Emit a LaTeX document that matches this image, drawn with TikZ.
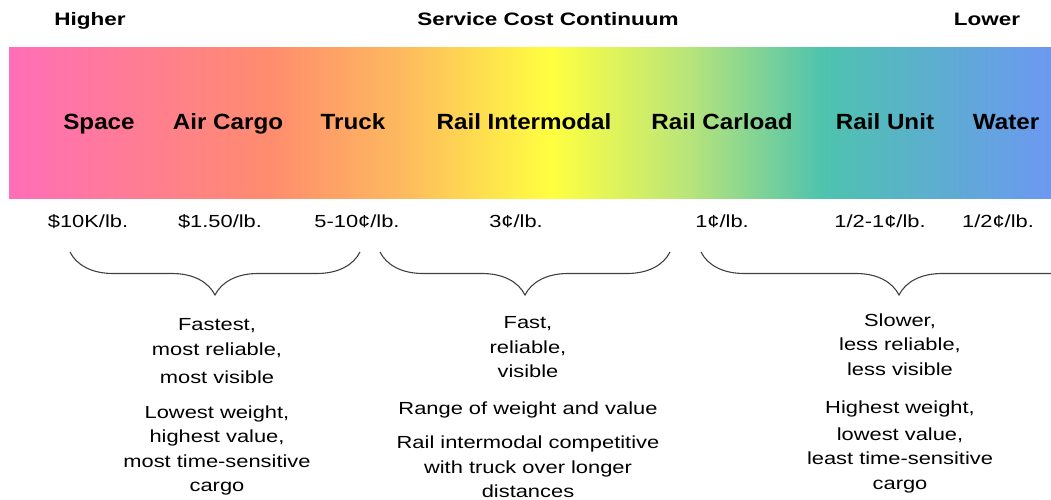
\documentclass[tikz,border=0pt]{standalone}
\usepackage{fontspec}
\setmainfont{Liberation Sans}[FakeStretch=1.25]
\newfontfamily\modefont{Liberation Sans}[FakeStretch=1.1]
\usetikzlibrary{decorations.pathreplacing}
\definecolor{cpink}{HTML}{FF6EB8}
\definecolor{csalmon}{HTML}{FF8C6E}
\definecolor{cpeach}{HTML}{FDBB5E}
\definecolor{cyellow}{HTML}{FFFF40}
\definecolor{clime}{HTML}{B9E57A}
\definecolor{cteal}{HTML}{4EC3AE}
\definecolor{cblue}{HTML}{6C98F2}
\pgfdeclarehorizontalshading{spectrum}{100bp}{color(0bp)=(cpink); color(25bp)=(cpink); color(37.5bp)=(csalmon); color(44bp)=(cpeach); color(51bp)=(cyellow); color(57.5bp)=(clime); color(64bp)=(cteal); color(75bp)=(cblue); color(100bp)=(cblue)}

\begin{document}
\begin{tikzpicture}[x=1pt,y=-1pt,
  hd/.style={anchor=base, inner sep=0pt, font=\fontsize{18}{22}\selectfont\bfseries},
  mode/.style={anchor=base, inner sep=0pt, font=\modefont\fontsize{22}{26}\selectfont\bfseries},
  cost/.style={anchor=base, inner sep=0pt, font=\fontsize{17.5}{22}\selectfont},
  note/.style={anchor=north, inner sep=0pt, align=center, font=\fontsize{17.5}{24.5}\selectfont},
  brc/.style={draw=black!75, line width=1.1pt, decorate, decoration={brace, mirror, amplitude=43pt}}]
\useasboundingbox (0,0) rectangle (1051,500);
\node[hd] (higher) at (90,26) {Higher};
\node[hd] (title) at (548,26) {Service Cost Continuum};
\node[hd] (lower) at (987,26) {Lower};
\shade[shading=spectrum] (9,48) rectangle (1052,198);
\node[mode] (space) at (99,129) {Space};
\node[mode] (air) at (228,129) {Air Cargo};
\node[mode] (truck) at (353,129) {Truck};
\node[mode] (intermodal) at (524,129) {Rail Intermodal};
\node[mode] (carload) at (722,129) {Rail Carload};
\node[mode] (unit) at (885,129) {Rail Unit};
\node[mode] (water) at (1006,129) {Water};
\node[cost] (c-space) at (88,227) {\$10K/lb.};
\node[cost] (c-air) at (220,227) {\$1.50/lb.};
\node[cost] (c-truck) at (357,227) {5-10¢/lb.};
\node[cost] (c-intermodal) at (516,227) {3¢/lb.};
\node[cost] (c-carload) at (722,227) {1¢/lb.};
\node[cost] (c-unit) at (880,227) {1/2-1¢/lb.};
\node[cost] (c-water) at (998,227) {1/2¢/lb.};
\coordinate (b1l) at (70,252);
\coordinate (b1r) at (360,252);
\coordinate (b2l) at (380,252);
\coordinate (b2r) at (670,252);
\coordinate (b3l) at (701,252);
\coordinate (b3r) at (1097,252);
\draw[brc] (b1l) -- (b1r);
\draw[brc] (b2l) -- (b2r);
\draw[brc] (b3l) -- (b3r);
\node[note] (fast) at (217,318.5) {Fastest,\\most reliable,\\[3.5pt]most visible\\[10.5pt]Lowest weight,\\highest value,\\most time-sensitive\\cargo};
\node[note] (mid) at (528,316.5) {Fast,\\reliable,\\visible\\[12.5pt]Range of weight and value\\[9.5pt]Rail intermodal competitive\\with truck over longer\\distances};
\node[note] (slow) at (900,313.5) {Slower,\\less reliable,\\less visible\\[13.5pt]Highest weight,\\[2.5pt]lowest value,\\least time-sensitive\\cargo};
\end{tikzpicture}
\end{document}
